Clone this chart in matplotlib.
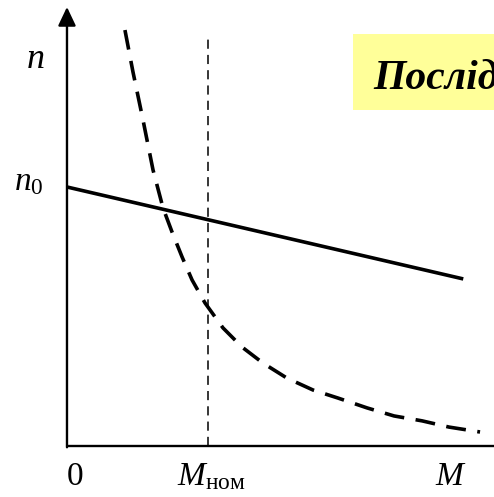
import numpy as np
import matplotlib
matplotlib.use("Agg")
import matplotlib.pyplot as plt
from matplotlib.patches import Rectangle

# Units: torque M in fractions of M_nom, speed n in fractions of n0
plt.rcParams['mathtext.fontset'] = 'custom'
plt.rcParams['mathtext.rm'] = 'Liberation Serif'
plt.rcParams['mathtext.it'] = 'Liberation Serif:italic'
plt.rcParams['mathtext.bf'] = 'Liberation Serif:bold'

# Solid line (shunt characteristic)
line_m = [0.0, 2.81]
line_n = [1.0, 0.645]

# Dashed curve (series characteristic)
curve_m = [0.411, 0.468, 0.539, 0.610, 0.681, 0.745, 0.816, 0.887, 0.979,
           1.106, 1.241, 1.390, 1.560, 1.745, 1.922, 2.128, 2.319, 2.518,
           2.709, 2.929]
curve_n = [1.606, 1.444, 1.259, 1.066, 0.919, 0.826, 0.730, 0.641, 0.552,
           0.456, 0.382, 0.320, 0.262, 0.216, 0.185, 0.147, 0.116, 0.097,
           0.073, 0.054]

m_nom = 1.0
title = "Послідовне"

fig = plt.figure(figsize=(4.94, 4.97), dpi=100)
ax = fig.add_axes([0, 0, 1, 1])
ax.set_xlim(-0.475, 3.028)
ax.set_ylim(-0.197, 1.722)
ax.axis('off')

# axes
ax.plot([0, 3.1], [0, 0], color='black', lw=1.7, solid_capstyle='butt')
ax.annotate('', xy=(0, 1.695), xytext=(0, -0.005),
            arrowprops=dict(arrowstyle='-|>,head_length=0.95,head_width=0.45',
                            color='black', lw=1.7, mutation_scale=12,
                            shrinkA=0, shrinkB=0))

# nominal torque
ax.plot([m_nom, m_nom], [0, 1.59], color='black', lw=1.1, dashes=(6, 4))

# characteristics
ax.plot(line_m, line_n, color='black', lw=2.6, solid_capstyle='butt')
ax.plot(curve_m, curve_n, color='black', lw=2.6, dashes=(5.5, 3.2))

# labels
fs = 24
ax.text(-0.227, 1.46, r'$n$', fontsize=fs + 2, ha='center', va='baseline')
ax.text(-0.27, 0.988, r'$n_0$', fontsize=fs, ha='center', va='baseline')
ax.text(0.057, -0.151, '0', fontsize=fs, family='Liberation Serif',
        ha='center', va='baseline')
ax.text(0.78, -0.151, r'$M_{\mathrm{ном}}$', fontsize=fs, ha='left', va='baseline')
ax.text(2.723, -0.151, r'$M$', fontsize=fs, ha='center', va='baseline')

# yellow title box, cut off at the right edge as in the original slide
ax.add_patch(Rectangle((353 / 494, 1 - 110 / 497), 1 - 353 / 494, 76 / 497,
                       transform=fig.transFigure, facecolor='#ffff99',
                       edgecolor='none', zorder=1))
ax.text(2.17, 1.378, title, fontsize=30, family='Liberation Serif',
        weight='bold', style='italic', ha='left', va='baseline', zorder=5)

fig.savefig('out.png', dpi=100)
